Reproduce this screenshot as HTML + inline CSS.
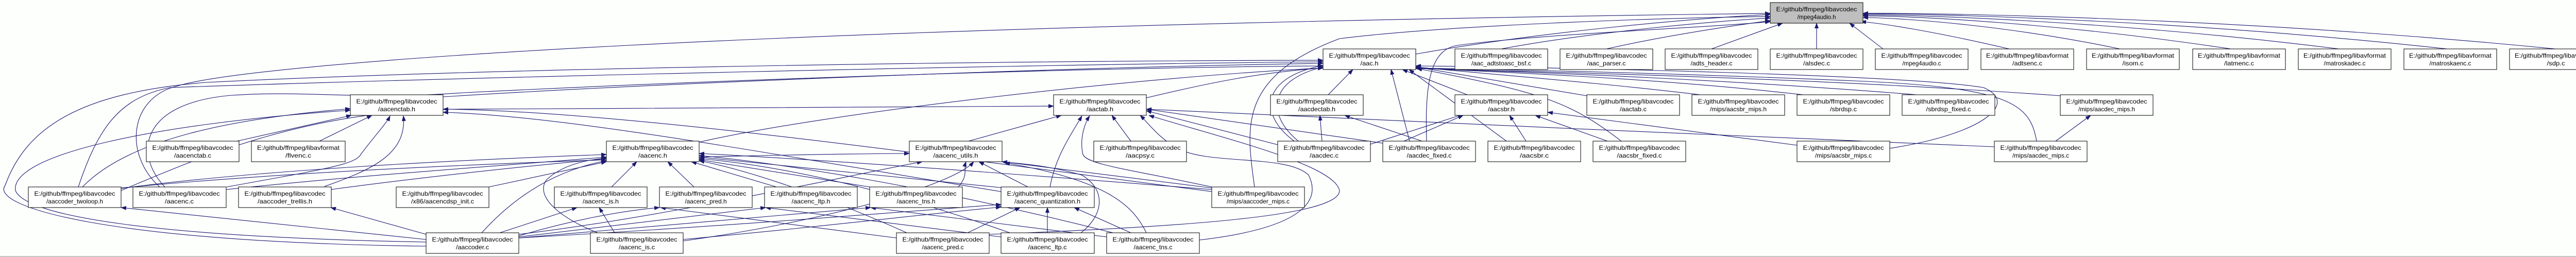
<!DOCTYPE html>
<html><head><meta charset="utf-8"><style>
html,body{margin:0;padding:0;background:#fdfffd;}
svg{display:block;}
text{font-family:"Liberation Sans",sans-serif;font-size:12px;fill:#000;text-anchor:middle;}
.e{fill:none;stroke:#191970;stroke-width:1.1;marker-end:url(#a);}
.n{fill:#fff;stroke:#000;stroke-width:1;}
.s{fill:none;stroke:#888;stroke-width:1.5;}
</style></head><body>
<svg width="5058" height="499" viewBox="0 0 5058 499" xmlns="http://www.w3.org/2000/svg">
<defs><marker id="a" markerWidth="11" markerHeight="8" refX="10" refY="4" orient="auto" markerUnits="userSpaceOnUse"><path d="M0,0 L11,4 L0,8 z" fill="#191970"/></marker></defs>
<line x1="0" y1="498" x2="5058" y2="498" stroke="#b0b0b0" stroke-width="1.5"/>
<g>
<!-- to mpeg4audio.h -->
<path class="e" d="M2748,105 C3000,60 3300,35 3436,28"/>
<path class="e" d="M2914,95 C3100,60 3350,40 3436,35"/>
<path class="e" d="M3118,95 C3250,65 3400,45 3436,40"/>
<path class="e" d="M3322,95 L3460,45"/>
<path class="e" d="M3526,95 L3526,45"/>
<path class="e" d="M3655,95 L3590,45"/>
<path class="e" d="M3900,95 C3750,60 3650,45 3612,42"/>
<path class="e" d="M4115,95 C3900,50 3700,35 3616,34"/>
<path class="e" d="M4330,95 C4000,45 3700,30 3616,31"/>
<path class="e" d="M4540,95 C4100,40 3700,28 3616,29"/>
<path class="e" d="M4750,95 C4200,35 3700,26 3616,27"/>
<path class="e" d="M4960,95 C4300,30 3700,25 3616,26"/>
<path class="e" d="M310,363 C240,300 250,190 344,167 C500,120 1500,50 3436,26"/>
<path class="e" d="M2769,274 C2765,150 2780,95 2830,88 C3000,65 3300,55 3436,42"/>
<path class="e" d="M2435,363 C2420,250 2400,150 2600,75 C2800,50 3200,35 3436,32"/>
<!-- to aac.h -->
<path class="e" d="M1357,276 C1600,220 2200,150 2568,132"/>
<path class="e" d="M860,188 C1300,160 2100,130 2568,123"/>
<path class="e" d="M827,478 C200,470 -20,400 10,360 C50,250 150,180 400,160 C1000,130 2000,118 2568,117"/>
<path class="e" d="M152,363 C190,250 230,190 330,170 C900,150 2000,125 2568,120"/>
<path class="e" d="M320,363 C260,300 270,200 450,185 C600,175 700,195 900,180 C1500,150 2200,130 2568,128"/>
<path class="e" d="M2225,190 C2350,160 2450,140 2568,132"/>
<path class="e" d="M2512,274 C2440,220 2450,150 2568,127"/>
<path class="e" d="M2520,274 C2455,220 2465,155 2568,130"/>
<path class="e" d="M2578,184 L2626,135"/>
<path class="e" d="M2848,184 L2722,135"/>
<path class="e" d="M3080,186 L2748,130"/>
<path class="e" d="M3300,184 C3100,160 2900,145 2748,130"/>
<path class="e" d="M3500,184 C3200,150 2900,140 2748,132"/>
<path class="e" d="M3720,184 C3300,150 2900,138 2748,132"/>
<path class="e" d="M4000,186 C3500,150 3000,140 2748,133"/>
<path class="e" d="M3147,274 C3050,200 3000,180 2750,133"/>
<path class="e" d="M2924,274 L2735,135"/>
<path class="e" d="M2736,274 L2700,135"/>
<path class="e" d="M3953,274 C3940,200 3900,170 3600,157 C3200,140 2900,135 2748,132"/>
<path class="e" d="M3668,288 C3850,260 3920,200 3850,170 C3700,145 3000,130 2748,128"/>
<!-- to aacenctab.h -->
<path class="e" d="M827,470 C300,460 50,420 30,370 C20,300 300,240 680,214"/>
<path class="e" d="M160,363 C250,270 450,230 680,211"/>
<path class="e" d="M440,363 C620,330 690,320 700,300 C730,260 750,240 757,225"/>
<path class="e" d="M630,362 C720,330 790,300 783,225"/>
<path class="e" d="M460,274 L682,224"/>
<path class="e" d="M620,274 L722,224"/>
<path class="e" d="M2352,372 C1800,300 1200,215 860,212"/>
<path class="e" d="M1943,372 C1500,300 1100,225 860,218"/>
<!-- to aactab.h -->
<path class="e" d="M235,370 C400,300 600,215 880,212 C1300,210 1800,208 2045,206"/>
<path class="e" d="M1880,274 L2060,224"/>
<path class="e" d="M2195,274 L2158,224"/>
<path class="e" d="M2038,363 C2050,300 2080,260 2100,225"/>
<path class="e" d="M2352,363 C2200,330 2110,320 2102,300 C2095,270 2105,240 2115,225"/>
<path class="e" d="M2480,281 L2225,215"/>
<path class="e" d="M2684,278 L2225,212"/>
<path class="e" d="M3871,285 C3300,260 2800,240 2225,212"/>
<path class="e" d="M2328,466 C2550,440 2560,380 2540,340 C2500,300 2350,320 2290,290 C2250,270 2230,240 2213,224"/>
<path class="e" d="M1920,455 C2300,440 2600,420 2600,370 C2590,320 2380,270 2230,224"/>
<!-- aacdectab / aacsbr / mips -->
<path class="e" d="M2566,274 L2562,224"/>
<path class="e" d="M2760,274 L2610,224"/>
<path class="e" d="M2725,274 L2840,224"/>
<path class="e" d="M2962,274 L2930,224"/>
<path class="e" d="M3120,274 L2980,224"/>
<path class="e" d="M3488,282 L3004,218"/>
<path class="e" d="M2660,280 L2840,222"/>
<path class="e" d="M3990,274 L4058,224"/>
<!-- to aacenc.h -->
<path class="e" d="M1187,363 L1236,314"/>
<path class="e" d="M1347,363 L1296,314"/>
<path class="e" d="M1507,363 L1342,314"/>
<path class="e" d="M1688,363 L1357,310"/>
<path class="e" d="M935,452 C1000,380 1080,330 1177,312"/>
<path class="e" d="M439,368 C700,340 1000,320 1177,305"/>
<path class="e" d="M235,366 C500,330 900,310 1177,300"/>
<path class="e" d="M642,368 C850,340 1050,320 1177,308"/>
<path class="e" d="M949,363 L1177,314"/>
<path class="e" d="M1950,365 C1700,340 1500,320 1357,305"/>
<path class="e" d="M2352,368 C2000,340 1600,310 1357,298"/>
<path class="e" d="M1160,452 C1080,420 1040,380 1060,350 C1090,320 1140,310 1177,307"/>
<path class="e" d="M1760,452 C1600,380 1450,330 1357,312"/>
<path class="e" d="M1960,452 C1700,360 1500,320 1357,308"/>
<path class="e" d="M2160,452 C1800,360 1500,315 1357,302"/>
<!-- to aacenc_utils.h -->
<path class="e" d="M1995,363 L1900,314"/>
<path class="e" d="M1860,363 C1880,340 1870,330 1875,314"/>
<path class="e" d="M2098,452 C2140,420 2150,370 2100,340 C2030,320 1980,318 1945,314"/>
<path class="e" d="M2225,452 C2200,400 2150,350 1950,316"/>
<path class="e" d="M2352,365 L1945,314"/>
<path class="e" d="M235,365 C700,320 1400,300 1765,298"/>
<path class="e" d="M1325,468 C1600,430 1850,360 1890,314"/>
<path class="e" d="M1007,455 C1300,420 1650,340 1790,314"/>
<!-- lower rows -->
<path class="e" d="M1007,462 C1400,440 1700,415 1943,397"/>
<path class="e" d="M1325,465 C1600,440 1800,415 1943,402"/>
<path class="e" d="M970,452 L1120,403"/>
<path class="e" d="M1193,452 L1163,403"/>
<path class="e" d="M1007,458 C1100,430 1200,410 1280,403"/>
<path class="e" d="M1740,462 L1282,403"/>
<path class="e" d="M1943,460 L1486,403"/>
<path class="e" d="M2148,460 L1690,403"/>
<path class="e" d="M1007,460 L1486,403"/>
<path class="e" d="M1007,462 L1690,403"/>
<path class="e" d="M1878,452 L1980,403"/>
<path class="e" d="M2033,452 L2033,403"/>
<path class="e" d="M2195,452 L2085,403"/>
<path class="e" d="M827,465 L235,403"/>
<path class="e" d="M827,455 L642,403"/>
</g>
<g>
<!-- Row 1 -->
<rect x="3436" y="5" width="180" height="40" fill="#bfbfbf" stroke="#000"/><text x="3526" y="22" textLength="157" lengthAdjust="spacingAndGlyphs">E:/github/ffmpeg/libavcodec</text><text x="3526" y="37" textLength="75" lengthAdjust="spacingAndGlyphs">/mpeg4audio.h</text>
<!-- Row 2 -->
<rect class="n" x="2568" y="95" width="180" height="40"/><text x="2658" y="112" textLength="157" lengthAdjust="spacingAndGlyphs">E:/github/ffmpeg/libavcodec</text><text x="2658" y="127" textLength="35" lengthAdjust="spacingAndGlyphs">/aac.h</text>
<rect class="n" x="2824" y="95" width="180" height="40"/><text x="2914" y="112" textLength="157" lengthAdjust="spacingAndGlyphs">E:/github/ffmpeg/libavcodec</text><text x="2914" y="127" textLength="116" lengthAdjust="spacingAndGlyphs">/aac_adtstoasc_bsf.c</text>
<rect class="n" x="3028" y="95" width="180" height="40"/><text x="3118" y="112" textLength="157" lengthAdjust="spacingAndGlyphs">E:/github/ffmpeg/libavcodec</text><text x="3118" y="127" textLength="75" lengthAdjust="spacingAndGlyphs">/aac_parser.c</text>
<rect class="n" x="3232" y="95" width="180" height="40"/><text x="3322" y="112" textLength="157" lengthAdjust="spacingAndGlyphs">E:/github/ffmpeg/libavcodec</text><text x="3322" y="127" textLength="81" lengthAdjust="spacingAndGlyphs">/adts_header.c</text>
<rect class="n" x="3436" y="95" width="180" height="40"/><text x="3526" y="112" textLength="157" lengthAdjust="spacingAndGlyphs">E:/github/ffmpeg/libavcodec</text><text x="3526" y="127" textLength="52" lengthAdjust="spacingAndGlyphs">/alsdec.c</text>
<rect class="n" x="3640" y="95" width="180" height="40"/><text x="3730" y="112" textLength="157" lengthAdjust="spacingAndGlyphs">E:/github/ffmpeg/libavcodec</text><text x="3730" y="127" textLength="75" lengthAdjust="spacingAndGlyphs">/mpeg4audio.c</text>
<rect class="n" x="3845" y="95" width="180" height="40"/><text x="3935" y="112" textLength="160" lengthAdjust="spacingAndGlyphs">E:/github/ffmpeg/libavformat</text><text x="3935" y="127" textLength="58" lengthAdjust="spacingAndGlyphs">/adtsenc.c</text>
<rect class="n" x="4050" y="95" width="180" height="40"/><text x="4140" y="112" textLength="160" lengthAdjust="spacingAndGlyphs">E:/github/ffmpeg/libavformat</text><text x="4140" y="127" textLength="41" lengthAdjust="spacingAndGlyphs">/isom.c</text>
<rect class="n" x="4256" y="95" width="180" height="40"/><text x="4346" y="112" textLength="160" lengthAdjust="spacingAndGlyphs">E:/github/ffmpeg/libavformat</text><text x="4346" y="127" textLength="58" lengthAdjust="spacingAndGlyphs">/latmenc.c</text>
<rect class="n" x="4461" y="95" width="180" height="40"/><text x="4551" y="112" textLength="160" lengthAdjust="spacingAndGlyphs">E:/github/ffmpeg/libavformat</text><text x="4551" y="127" textLength="81" lengthAdjust="spacingAndGlyphs">/matroskadec.c</text>
<rect class="n" x="4666" y="95" width="180" height="40"/><text x="4756" y="112" textLength="160" lengthAdjust="spacingAndGlyphs">E:/github/ffmpeg/libavformat</text><text x="4756" y="127" textLength="81" lengthAdjust="spacingAndGlyphs">/matroskaenc.c</text>
<rect class="n" x="4871" y="95" width="180" height="40"/><text x="4961" y="112" textLength="160" lengthAdjust="spacingAndGlyphs">E:/github/ffmpeg/libavformat</text><text x="4961" y="127" textLength="35" lengthAdjust="spacingAndGlyphs">/sdp.c</text>
<!-- Row 3 -->
<rect class="n" x="680" y="184" width="180" height="40"/><text x="770" y="201" textLength="157" lengthAdjust="spacingAndGlyphs">E:/github/ffmpeg/libavcodec</text><text x="770" y="216" textLength="72" lengthAdjust="spacingAndGlyphs">/aacenctab.h</text>
<rect class="n" x="2045" y="184" width="180" height="40"/><text x="2135" y="201" textLength="157" lengthAdjust="spacingAndGlyphs">E:/github/ffmpeg/libavcodec</text><text x="2135" y="216" textLength="52" lengthAdjust="spacingAndGlyphs">/aactab.h</text>
<rect class="n" x="2466" y="184" width="180" height="40"/><text x="2556" y="201" textLength="157" lengthAdjust="spacingAndGlyphs">E:/github/ffmpeg/libavcodec</text><text x="2556" y="216" textLength="72" lengthAdjust="spacingAndGlyphs">/aacdectab.h</text>
<rect class="n" x="2824" y="184" width="180" height="40"/><text x="2914" y="201" textLength="157" lengthAdjust="spacingAndGlyphs">E:/github/ffmpeg/libavcodec</text><text x="2914" y="216" textLength="52" lengthAdjust="spacingAndGlyphs">/aacsbr.h</text>
<rect class="n" x="3080" y="184" width="180" height="40"/><text x="3170" y="201" textLength="157" lengthAdjust="spacingAndGlyphs">E:/github/ffmpeg/libavcodec</text><text x="3170" y="216" textLength="52" lengthAdjust="spacingAndGlyphs">/aactab.c</text>
<rect class="n" x="3284" y="184" width="180" height="40"/><text x="3374" y="201" textLength="157" lengthAdjust="spacingAndGlyphs">E:/github/ffmpeg/libavcodec</text><text x="3374" y="216" textLength="110" lengthAdjust="spacingAndGlyphs">/mips/aacsbr_mips.h</text>
<rect class="n" x="3488" y="184" width="180" height="40"/><text x="3578" y="201" textLength="157" lengthAdjust="spacingAndGlyphs">E:/github/ffmpeg/libavcodec</text><text x="3578" y="216" textLength="52" lengthAdjust="spacingAndGlyphs">/sbrdsp.c</text>
<rect class="n" x="3692" y="184" width="180" height="40"/><text x="3782" y="201" textLength="157" lengthAdjust="spacingAndGlyphs">E:/github/ffmpeg/libavcodec</text><text x="3782" y="216" textLength="87" lengthAdjust="spacingAndGlyphs">/sbrdsp_fixed.c</text>
<rect class="n" x="3999" y="184" width="180" height="40"/><text x="4089" y="201" textLength="157" lengthAdjust="spacingAndGlyphs">E:/github/ffmpeg/libavcodec</text><text x="4089" y="216" textLength="110" lengthAdjust="spacingAndGlyphs">/mips/aacdec_mips.h</text>
<!-- Row 4 -->
<rect class="n" x="284" y="274" width="180" height="40"/><text x="374" y="291" textLength="157" lengthAdjust="spacingAndGlyphs">E:/github/ffmpeg/libavcodec</text><text x="374" y="306" textLength="72" lengthAdjust="spacingAndGlyphs">/aacenctab.c</text>
<rect class="n" x="488" y="274" width="182" height="40"/><text x="579" y="291" textLength="160" lengthAdjust="spacingAndGlyphs">E:/github/ffmpeg/libavformat</text><text x="579" y="306" textLength="50" lengthAdjust="spacingAndGlyphs">/flvenc.c</text>
<rect class="n" x="1177" y="274" width="180" height="40"/><text x="1267" y="291" textLength="157" lengthAdjust="spacingAndGlyphs">E:/github/ffmpeg/libavcodec</text><text x="1267" y="306" textLength="56" lengthAdjust="spacingAndGlyphs">/aacenc.h</text>
<rect class="n" x="1765" y="274" width="180" height="40"/><text x="1855" y="291" textLength="157" lengthAdjust="spacingAndGlyphs">E:/github/ffmpeg/libavcodec</text><text x="1855" y="306" textLength="87" lengthAdjust="spacingAndGlyphs">/aacenc_utils.h</text>
<rect class="n" x="2123" y="274" width="180" height="40"/><text x="2213" y="291" textLength="157" lengthAdjust="spacingAndGlyphs">E:/github/ffmpeg/libavcodec</text><text x="2213" y="306" textLength="56" lengthAdjust="spacingAndGlyphs">/aacpsy.c</text>
<rect class="n" x="2480" y="274" width="180" height="40"/><text x="2570" y="291" textLength="157" lengthAdjust="spacingAndGlyphs">E:/github/ffmpeg/libavcodec</text><text x="2570" y="306" textLength="56" lengthAdjust="spacingAndGlyphs">/aacdec.c</text>
<rect class="n" x="2684" y="274" width="180" height="40"/><text x="2774" y="291" textLength="157" lengthAdjust="spacingAndGlyphs">E:/github/ffmpeg/libavcodec</text><text x="2774" y="306" textLength="87" lengthAdjust="spacingAndGlyphs">/aacdec_fixed.c</text>
<rect class="n" x="2888" y="274" width="180" height="40"/><text x="2978" y="291" textLength="157" lengthAdjust="spacingAndGlyphs">E:/github/ffmpeg/libavcodec</text><text x="2978" y="306" textLength="56" lengthAdjust="spacingAndGlyphs">/aacsbr.c</text>
<rect class="n" x="3092" y="274" width="180" height="40"/><text x="3182" y="291" textLength="157" lengthAdjust="spacingAndGlyphs">E:/github/ffmpeg/libavcodec</text><text x="3182" y="306" textLength="87" lengthAdjust="spacingAndGlyphs">/aacsbr_fixed.c</text>
<rect class="n" x="3488" y="274" width="180" height="40"/><text x="3578" y="291" textLength="157" lengthAdjust="spacingAndGlyphs">E:/github/ffmpeg/libavcodec</text><text x="3578" y="306" textLength="110" lengthAdjust="spacingAndGlyphs">/mips/aacsbr_mips.c</text>
<rect class="n" x="3871" y="274" width="180" height="40"/><text x="3961" y="291" textLength="157" lengthAdjust="spacingAndGlyphs">E:/github/ffmpeg/libavcodec</text><text x="3961" y="306" textLength="110" lengthAdjust="spacingAndGlyphs">/mips/aacdec_mips.c</text>
<!-- Row 5 -->
<rect class="n" x="55" y="363" width="180" height="40"/><text x="145" y="380" textLength="157" lengthAdjust="spacingAndGlyphs">E:/github/ffmpeg/libavcodec</text><text x="145" y="395" textLength="110" lengthAdjust="spacingAndGlyphs">/aaccoder_twoloop.h</text>
<rect class="n" x="258" y="363" width="181" height="40"/><text x="348" y="380" textLength="157" lengthAdjust="spacingAndGlyphs">E:/github/ffmpeg/libavcodec</text><text x="348" y="395" textLength="56" lengthAdjust="spacingAndGlyphs">/aacenc.c</text>
<rect class="n" x="463" y="363" width="180" height="40"/><text x="553" y="380" textLength="157" lengthAdjust="spacingAndGlyphs">E:/github/ffmpeg/libavcodec</text><text x="553" y="395" textLength="106" lengthAdjust="spacingAndGlyphs">/aaccoder_trellis.h</text>
<rect class="n" x="769" y="363" width="180" height="40"/><text x="859" y="380" textLength="157" lengthAdjust="spacingAndGlyphs">E:/github/ffmpeg/libavcodec</text><text x="859" y="395" textLength="122" lengthAdjust="spacingAndGlyphs">/x86/aacencdsp_init.c</text>
<rect class="n" x="1076" y="363" width="180" height="40"/><text x="1166" y="380" textLength="157" lengthAdjust="spacingAndGlyphs">E:/github/ffmpeg/libavcodec</text><text x="1166" y="395" textLength="70" lengthAdjust="spacingAndGlyphs">/aacenc_is.h</text>
<rect class="n" x="1280" y="363" width="180" height="40"/><text x="1370" y="380" textLength="157" lengthAdjust="spacingAndGlyphs">E:/github/ffmpeg/libavcodec</text><text x="1370" y="395" textLength="81" lengthAdjust="spacingAndGlyphs">/aacenc_pred.h</text>
<rect class="n" x="1484" y="363" width="180" height="40"/><text x="1574" y="380" textLength="157" lengthAdjust="spacingAndGlyphs">E:/github/ffmpeg/libavcodec</text><text x="1574" y="395" textLength="75" lengthAdjust="spacingAndGlyphs">/aacenc_ltp.h</text>
<rect class="n" x="1688" y="363" width="180" height="40"/><text x="1778" y="380" textLength="157" lengthAdjust="spacingAndGlyphs">E:/github/ffmpeg/libavcodec</text><text x="1778" y="395" textLength="75" lengthAdjust="spacingAndGlyphs">/aacenc_tns.h</text>
<rect class="n" x="1943" y="363" width="181" height="40"/><text x="2033" y="380" textLength="157" lengthAdjust="spacingAndGlyphs">E:/github/ffmpeg/libavcodec</text><text x="2033" y="395" textLength="128" lengthAdjust="spacingAndGlyphs">/aacenc_quantization.h</text>
<rect class="n" x="2352" y="363" width="180" height="40"/><text x="2442" y="380" textLength="157" lengthAdjust="spacingAndGlyphs">E:/github/ffmpeg/libavcodec</text><text x="2442" y="395" textLength="122" lengthAdjust="spacingAndGlyphs">/mips/aaccoder_mips.c</text>
<!-- Row 6 -->
<rect class="n" x="827" y="452" width="180" height="40"/><text x="917" y="469" textLength="157" lengthAdjust="spacingAndGlyphs">E:/github/ffmpeg/libavcodec</text><text x="917" y="484" textLength="64" lengthAdjust="spacingAndGlyphs">/aaccoder.c</text>
<rect class="n" x="1146" y="452" width="180" height="40"/><text x="1236" y="469" textLength="157" lengthAdjust="spacingAndGlyphs">E:/github/ffmpeg/libavcodec</text><text x="1236" y="484" textLength="70" lengthAdjust="spacingAndGlyphs">/aacenc_is.c</text>
<rect class="n" x="1740" y="452" width="180" height="40"/><text x="1830" y="469" textLength="157" lengthAdjust="spacingAndGlyphs">E:/github/ffmpeg/libavcodec</text><text x="1830" y="484" textLength="81" lengthAdjust="spacingAndGlyphs">/aacenc_pred.c</text>
<rect class="n" x="1943" y="452" width="181" height="40"/><text x="2033" y="469" textLength="157" lengthAdjust="spacingAndGlyphs">E:/github/ffmpeg/libavcodec</text><text x="2033" y="484" textLength="75" lengthAdjust="spacingAndGlyphs">/aacenc_ltp.c</text>
<rect class="n" x="2148" y="452" width="180" height="40"/><text x="2238" y="469" textLength="157" lengthAdjust="spacingAndGlyphs">E:/github/ffmpeg/libavcodec</text><text x="2238" y="484" textLength="75" lengthAdjust="spacingAndGlyphs">/aacenc_tns.c</text>
</g>
</svg>
</body></html>
